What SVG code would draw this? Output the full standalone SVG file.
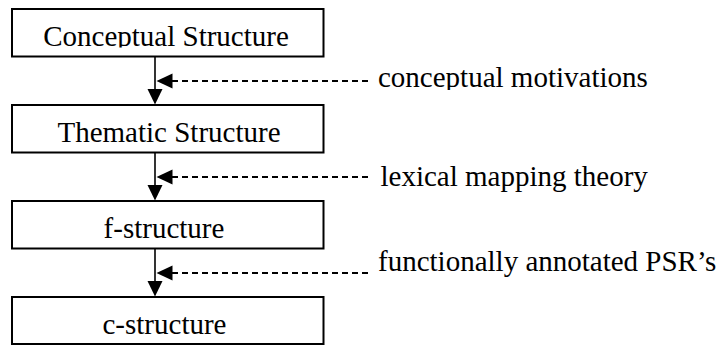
<svg xmlns="http://www.w3.org/2000/svg" width="724" height="345" viewBox="0 0 724 345">
<style>
.box{fill:#fff;stroke:#000;stroke-width:2}
.t{font-family:'Liberation Serif','Times New Roman',Times,serif;font-size:29px;fill:#000}
.line{stroke:#000;stroke-width:1.6;fill:none}
.dash{stroke:#000;stroke-width:1.8;stroke-dasharray:6,4;fill:none}
.head{fill:#000}
</style>
<defs>
<clipPath id="c1"><rect x="0" y="0" width="724" height="47.5"/></clipPath>
<clipPath id="c2"><rect x="0" y="0" width="724" height="90"/></clipPath>
</defs>
<rect width="724" height="345" fill="#fff"/>
<g id="node-conceptual">
<rect class="box" x="12" y="9" width="311.5" height="47.5"/>
<text class="t" x="166" y="45.5" text-anchor="middle" clip-path="url(#c1)">Conceptual Structure</text>
</g>
<g id="node-thematic">
<rect class="box" x="12" y="105" width="311.5" height="47.5"/>
<text class="t" x="169" y="141.5" text-anchor="middle">Thematic Structure</text>
</g>
<g id="node-f">
<rect class="box" x="12" y="201" width="311.5" height="47.5"/>
<text class="t" x="164" y="237.5" text-anchor="middle">f-structure</text>
</g>
<g id="node-c">
<rect class="box" x="12" y="297" width="311.5" height="47"/>
<text class="t" x="164.5" y="333.5" text-anchor="middle">c-structure</text>
</g>
<g id="connectors">
<line class="line" x1="155" y1="56.5" x2="155" y2="90"/>
<polygon class="head" points="147.5,89 162.5,89 155,104.5"/>
<line class="dash" x1="172" y1="81" x2="372" y2="81"/>
<polygon class="head" points="156.5,81 172.5,73.5 172.5,88.5"/>
<line class="line" x1="155" y1="152.5" x2="155" y2="186"/>
<polygon class="head" points="147.5,185 162.5,185 155,200.5"/>
<line class="dash" x1="172" y1="177" x2="372" y2="177"/>
<polygon class="head" points="156.5,177 172.5,169.5 172.5,184.5"/>
<line class="line" x1="155" y1="248.5" x2="155" y2="282"/>
<polygon class="head" points="147.5,281 162.5,281 155,296.5"/>
<line class="dash" x1="172" y1="273" x2="372" y2="273"/>
<polygon class="head" points="156.5,273 172.5,265.5 172.5,280.5"/>
</g>
<g id="labels">
<text class="t" x="378" y="86.5" clip-path="url(#c2)">conceptual motivations</text>
<text class="t" x="380.5" y="186">lexical mapping theory</text>
<text class="t" x="378" y="271">functionally annotated PSR’s</text>
</g>
</svg>
